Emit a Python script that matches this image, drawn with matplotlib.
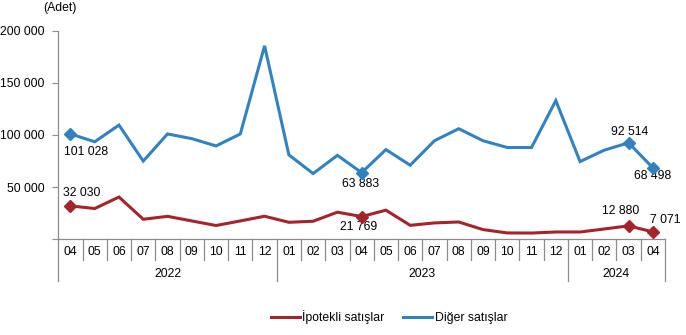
import matplotlib
matplotlib.use("Agg")
import matplotlib.pyplot as plt
import matplotlib.transforms as mtransforms

plt.rcParams['font.family'] = ['Liberation Sans', 'DejaVu Sans']

months = ["04", "05", "06", "07", "08", "09", "10", "11", "12",
          "01", "02", "03", "04", "05", "06", "07", "08", "09", "10", "11", "12",
          "01", "02", "03", "04"]
years = ["2022", "2023", "2024"]
year_counts = [9, 12, 4]

ipotekli = [32030, 29500, 40500, 19200, 22000, 17600, 13200, 17600, 22100,
            16300, 17300, 26000, 21769, 27900, 13400, 15700, 16600, 9300, 6100, 6000, 7000,
            7000, 9900, 12880, 7071]
diger = [101028, 93500, 109500, 75000, 101000, 96500, 89500, 101000, 185500,
         81000, 63000, 80500, 63883, 86000, 71000, 94500, 106000, 94500, 88000, 88000, 133000,
         74500, 85500, 92514, 68498]

marked = [0, 12, 23, 24]
ipotekli_labels = {0: "32 030", 12: "21 769", 23: "12 880", 24: "7 071"}
diger_labels = {0: "101 028", 12: "63 883", 23: "92 514", 24: "68 498"}

yticks = [0, 50000, 100000, 150000, 200000]
ytick_labels = ["", "50 000", "100 000", "150 000", "200 000"]

red = "#a3242a"
blue = "#3282c0"
gray = "#8c8c8c"
fs = 8.8

fig = plt.figure(figsize=(6.86, 3.35), dpi=100)
ax = fig.add_axes([0.085, 0.2857, 0.8844, 0.6227])

x = list(range(len(months)))
l1, = ax.plot(x, ipotekli, color=red, lw=2.2, solid_joinstyle='miter', label="İpotekli satışlar", zorder=3)
l2, = ax.plot(x, diger, color=blue, lw=2.2, solid_joinstyle='miter', label="Diğer satışlar", zorder=3)
ax.plot([x[i] for i in marked], [ipotekli[i] for i in marked], ls='none', marker='D', ms=6, color=red, zorder=4)
ax.plot([x[i] for i in marked], [diger[i] for i in marked], ls='none', marker='D', ms=6, color=blue, zorder=4)

offsets_red = {0: (11, 13), 12: (-3, -10), 23: (-8, 15), 24: (12, 12)}
offsets_blue = {0: (16, -18), 12: (-1.5, -11), 23: (1, 11), 24: (0, -8)}
for i, t in ipotekli_labels.items():
    ax.annotate(t, (x[i], ipotekli[i]), xytext=offsets_red[i], textcoords='offset pixels',
                ha='center', va='center', fontsize=fs, annotation_clip=False)
for i, t in diger_labels.items():
    ax.annotate(t, (x[i], diger[i]), xytext=offsets_blue[i], textcoords='offset pixels',
                ha='center', va='center', fontsize=fs, annotation_clip=False)

ax.set_xlim(-0.5, len(months) - 0.5)
ax.set_ylim(0, 200000)
ax.set_yticks(yticks)
ax.set_yticklabels(ytick_labels, fontsize=fs)
ax.tick_params(axis='y', length=4, color=gray, pad=6)
ax.set_xticks([])
for s in ['top', 'right']:
    ax.spines[s].set_visible(False)
for s in ['left', 'bottom']:
    ax.spines[s].set_color(gray)
    ax.spines[s].set_linewidth(0.9)

trans = mtransforms.blended_transform_factory(ax.transData, ax.transAxes)
for i, m in enumerate(months):
    ax.text(i, -0.062, m, transform=trans, ha='center', va='center', fontsize=fs, clip_on=False)
bounds = [-0.5]
acc = -0.5
for c in year_counts:
    acc += c
    bounds.append(acc)
for b in range(len(months) + 1):
    pos = b - 0.5
    depth = -0.201 if pos in bounds else -0.1005
    ax.plot([pos, pos], [0, depth], transform=trans, color=gray, lw=0.9, clip_on=False)
start = -0.5
for y, c in zip(years, year_counts):
    ax.text(start + c / 2, -0.167, y, transform=trans, ha='center', va='center', fontsize=fs, clip_on=False)
    start += c

fig.text(0.087, 0.976, "(Adet)", ha='center', va='center', fontsize=fs)

fig.legend(handles=[l1, l2], loc='center', bbox_to_anchor=(0.567, 0.054), ncol=2, frameon=False,
           fontsize=fs, handlelength=2.4, handletextpad=0.2, columnspacing=1.5)

fig.savefig("out.png", dpi=100)
